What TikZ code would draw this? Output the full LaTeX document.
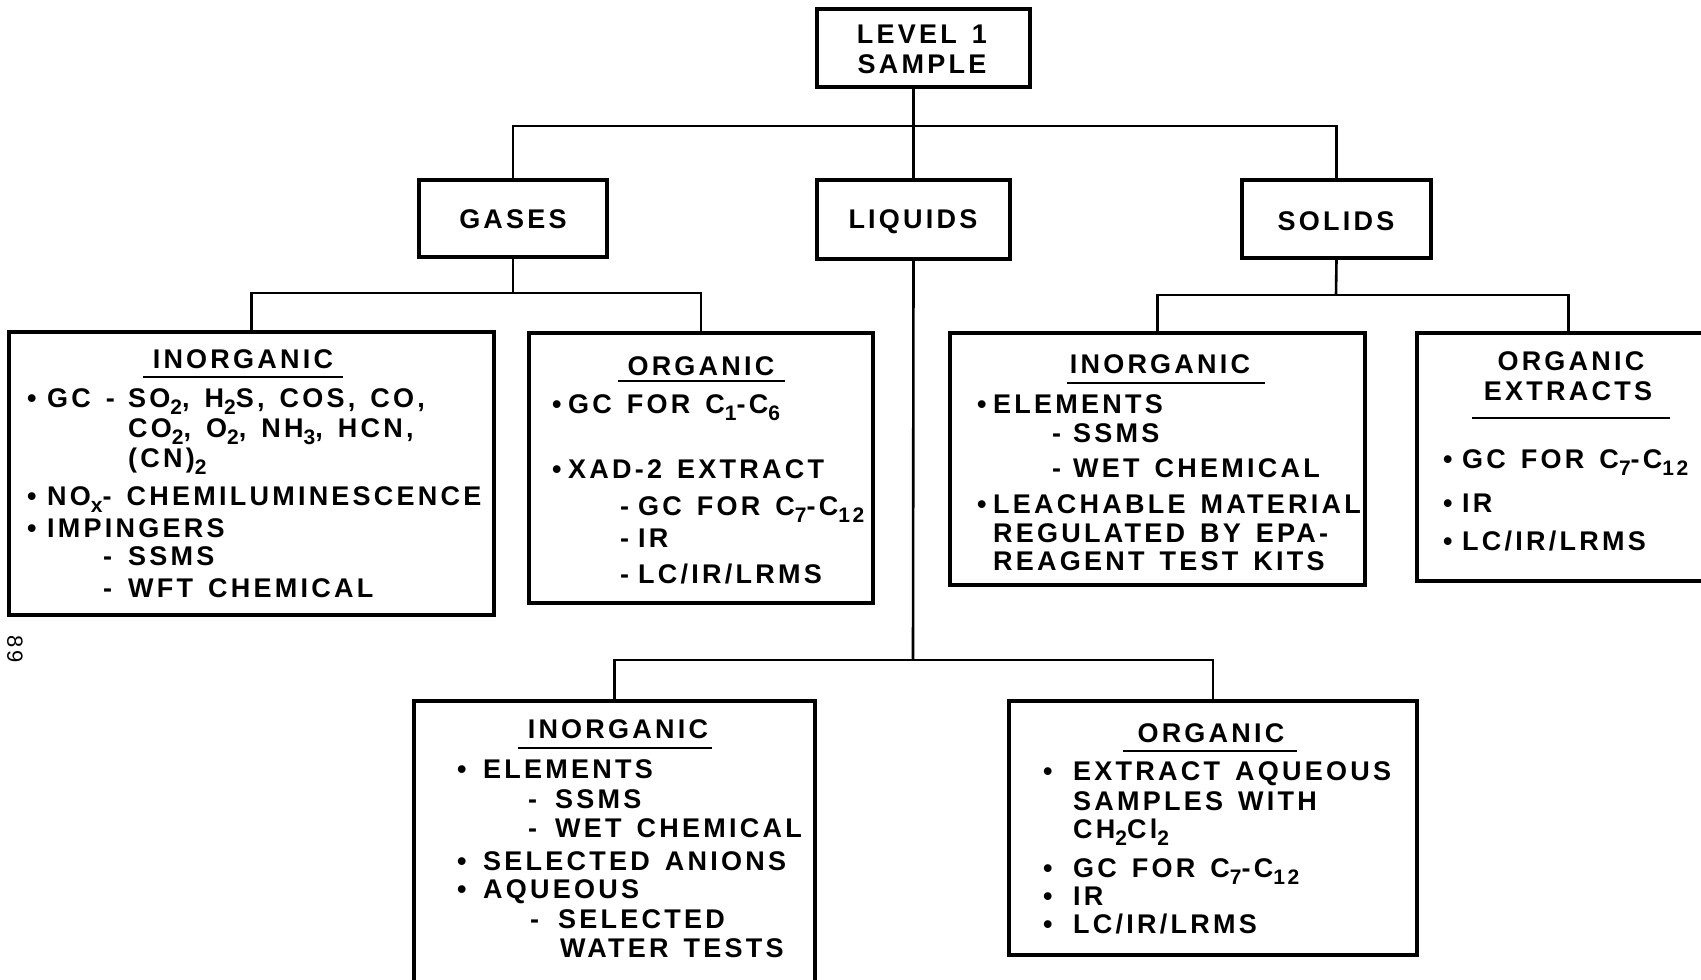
\documentclass[tikz,border=0pt]{standalone}
\usepackage{fontspec}
\setmainfont{Liberation Sans}[LetterSpace=12, WordSpace=1.4]
\usetikzlibrary{fit}
% chemical subscripts
\newcommand\chs[1]{\raisebox{-7pt}{\fontsize{21}{21}\selectfont #1}}
\newcommand\dia{\fontsize{27}{30}\selectfont\bfseries}
\tikzset{
  boxst/.style={draw, line width=3.2pt, inner sep=0pt},
  link/.style={line width=2.6pt},
  txt/.style={anchor=base west, inner sep=0pt, font=\dia},
  ctr/.style={anchor=base, inner sep=0pt, font=\dia},
  uline/.style={line width=2.2pt},
}
\begin{document}
\begin{tikzpicture}[x=1pt, y=-1pt]
\path[use as bounding box, clip] (0,0) rectangle (1701,980);
\fill[white] (0,0) rectangle (1701,980);

% ---- top level ----
\node[boxst, fit={(817,9) (1030,87)}] (lvl) {};
\node[ctr] (lvlA) at (922,43) {LEVEL 1};
\node[ctr] (lvlB) at (922,73) {SAMPLE};

\node[boxst, fit={(419,180) (607,257)}] (gas) {};
\node[ctr] (gasT) at (513,228) {GASES};
\node[boxst, fit={(817,180) (1010,259)}] (liq) {};
\node[ctr] (liqT) at (913,228) {LIQUIDS};
\node[boxst, fit={(1242,180) (1431,258)}] (sol) {};
\node[ctr] (solT) at (1336,230) {SOLIDS};

% ---- gases: inorganic ----
\node[boxst, fit={(9,332) (494,615)}] (gi) {};
\node[ctr] (giH) at (243,368) {INORGANIC};
\draw[uline] (143,377) -- (343,377);
\node[txt] (giB1) at (27,407) {•};
\node[txt] (giL1) at (47,407) {GC -};
\node[txt] (giL1b) at (128,407) {SO\chs{2}, H\chs{2}S, COS, CO,};
\node[txt] (giL2) at (128,437) {CO\chs{2}, O\chs{2}, NH\chs{3}, HCN,};
\node[txt] (giL3) at (128,467) {(CN)\chs{2}};
\node[txt] (giB2) at (27,505) {•};
\node[txt] (giL4) at (47,505) {NO\chs{x}- CHEMILUMINESCENCE};
\node[txt] (giB3) at (27,537) {•};
\node[txt] (giL5) at (47,537) {IMPINGERS};
\node[txt] (giD1) at (103,565) {-};
\node[txt] (giL6) at (128,565) {SSMS};
\node[txt] (giD2) at (103,597) {-};
\node[txt] (giL7) at (128,597) {WFT CHEMICAL};

% ---- gases: organic ----
\node[boxst, fit={(529,333) (873,603)}] (go) {};
\node[ctr] (goH) at (701,375) {ORGANIC};
\draw[uline] (618,381) -- (785,381);
\node[txt] (goB1) at (552,413) {•};
\node[txt] (goL1) at (568,413) {GC FOR C\chs{1}-C\chs{6}};
\node[txt] (goB2) at (552,478) {•};
\node[txt] (goL2) at (568,478) {XAD-2 EXTRACT};
\node[txt] (goD1) at (620,515) {-};
\node[txt] (goL3) at (638,515) {GC FOR C\chs{7}-C\chs{12}};
\node[txt] (goD2) at (620,547) {-};
\node[txt] (goL4) at (638,547) {IR};
\node[txt] (goD3) at (620,583) {-};
\node[txt] (goL5) at (638,583) {LC/IR/LRMS};

% ---- solids: inorganic ----
\node[boxst, fit={(950,333) (1365,585)}] (si) {};
\node[ctr] (siH) at (1160,373) {INORGANIC};
\draw[uline] (1067,383) -- (1265,383);
\node[txt] (siB1) at (977,413) {•};
\node[txt] (siL1) at (993,413) {ELEMENTS};
\node[txt] (siD1) at (1052,442) {-};
\node[txt] (siL2) at (1073,442) {SSMS};
\node[txt] (siD2) at (1052,477) {-};
\node[txt] (siL3) at (1073,477) {WET CHEMICAL};
\node[txt] (siB2) at (977,513) {•};
\node[txt] (siL4) at (993,513) {LEACHABLE MATERIAL};
\node[txt] (siL5) at (993,542) {REGULATED BY EPA-};
\node[txt] (siL6) at (993,570) {REAGENT TEST KITS};

% ---- solids: organic extracts ----
\node[boxst, fit={(1417,333) (1720,581)}] (so) {};
\node[ctr] (soH1) at (1571,370) {ORGANIC};
\node[ctr] (soH2) at (1568,400) {EXTRACTS};
\draw[uline] (1472,418) -- (1670,418);
\node[txt] (soB1) at (1443,468) {•};
\node[txt] (soL1) at (1462,468) {GC FOR C\chs{7}-C\chs{12}};
\node[txt] (soB2) at (1443,512) {•};
\node[txt] (soL2) at (1462,512) {IR};
\node[txt] (soB3) at (1443,550) {•};
\node[txt] (soL3) at (1462,550) {LC/IR/LRMS};

% ---- liquids: inorganic ----
\node[boxst, fit={(414,701) (815,992)}] (li) {};
\node[ctr] (liH) at (618,738) {INORGANIC};
\draw[uline] (518,748) -- (712,748);
\node[txt] (liB1) at (457,778) {•};
\node[txt] (liL1) at (483,778) {ELEMENTS};
\node[txt] (liD1) at (528,808) {-};
\node[txt] (liL2) at (555,808) {SSMS};
\node[txt] (liD2) at (528,837) {-};
\node[txt] (liL3) at (555,837) {WET CHEMICAL};
\node[txt] (liB2) at (457,870) {•};
\node[txt] (liL4) at (483,870) {SELECTED ANIONS};
\node[txt] (liB3) at (457,898) {•};
\node[txt] (liL5) at (483,898) {AQUEOUS};
\node[txt] (liD3) at (530,928) {-};
\node[txt] (liL6) at (558,928) {SELECTED};
\node[txt] (liL7) at (560,957) {WATER TESTS};

% ---- liquids: organic ----
\node[boxst, fit={(1009,701) (1417,955)}] (lo) {};
\node[ctr] (loH) at (1211,742) {ORGANIC};
\draw[uline] (1123,751) -- (1297,751);
\node[txt] (loB1) at (1043,780) {•};
\node[txt] (loL1) at (1073,780) {EXTRACT AQUEOUS};
\node[txt] (loL2) at (1073,810) {SAMPLES WITH};
\node[txt] (loL3) at (1073,838) {CH\chs{2}Cl\chs{2}};
\node[txt] (loB2) at (1043,877) {•};
\node[txt] (loL4) at (1073,877) {GC FOR C\chs{7}-C\chs{12}};
\node[txt] (loB3) at (1043,905) {•};
\node[txt] (loL5) at (1073,905) {IR};
\node[txt] (loB4) at (1043,933) {•};
\node[txt] (loL6) at (1073,933) {LC/IR/LRMS};

% ---- page number ----
\node[rotate=-90, inner sep=0pt, font=\fontsize{22}{22}\selectfont] (pg) at (15,649) {89};

% ---- connectors ----
\coordinate (topbus) at (914,126);
\coordinate (gbus) at (513,293);
\coordinate (sbus) at (1336,295);
\coordinate (lbus) at (913,660);
\draw[link] (lvl.south -| liq.north) -- (liq.north);
\draw[link] (gas.north) |- (topbus) -| (sol.north);
\draw[link] (gas.south) -- (gbus);
\draw[link] (gi.north) |- (gbus) -| (go.north);
\draw[link] (sol.south) -- (sbus);
\draw[link] (si.north) |- (sbus) -| (so.north);
\draw[link] (liq.south) -- (lbus);
\draw[link] (li.north) |- (lbus) -| (lo.north);
\end{tikzpicture}
\end{document}
